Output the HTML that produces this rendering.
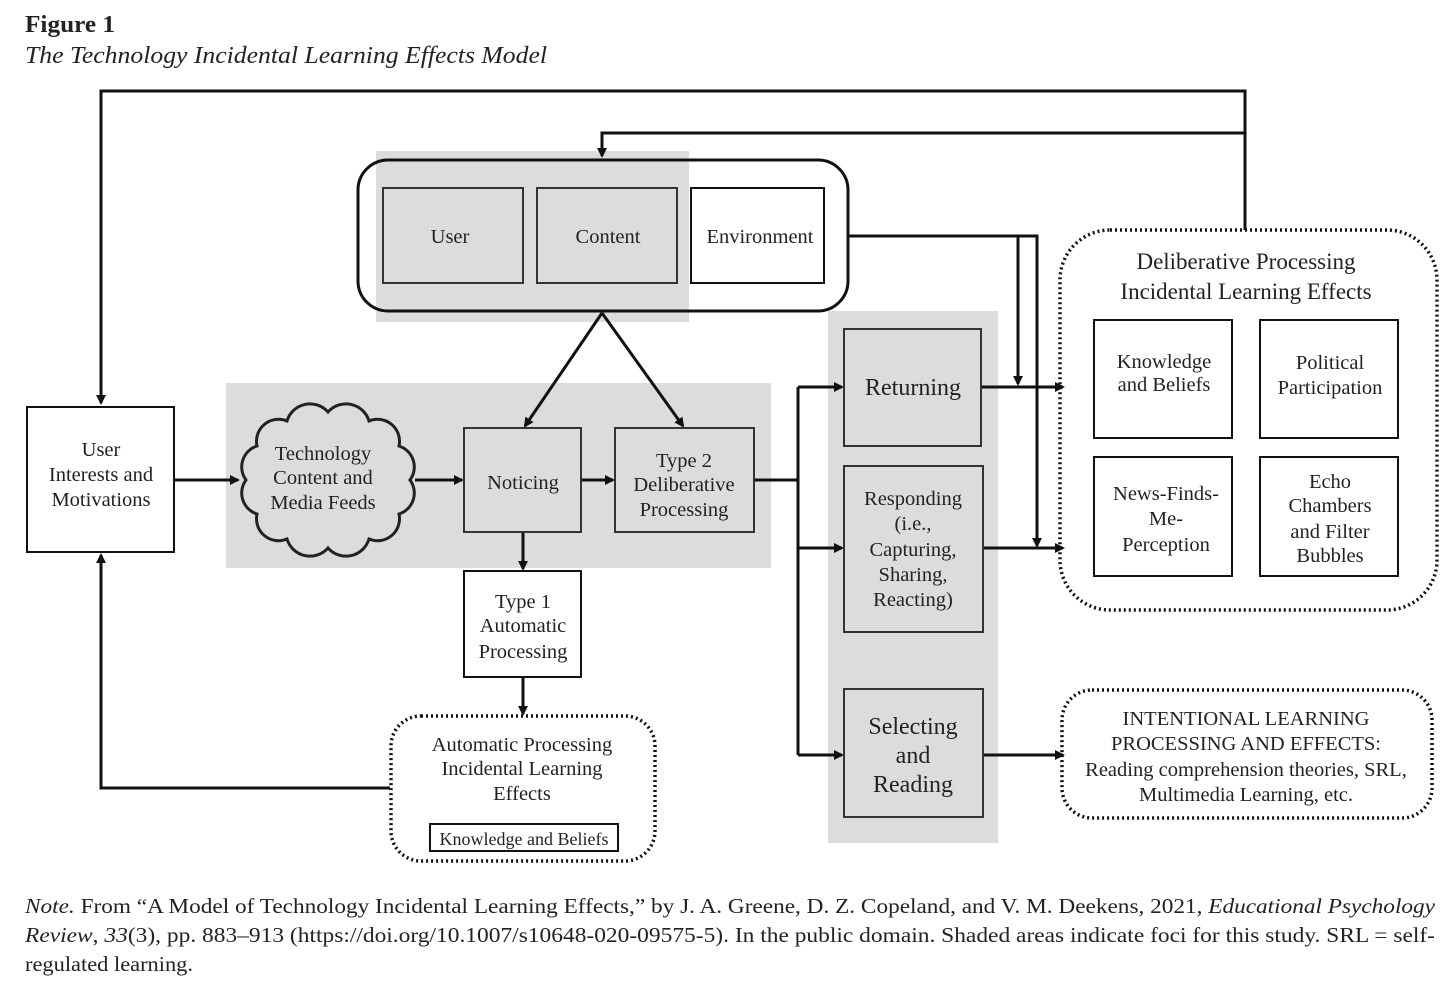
<!DOCTYPE html>
<html><head><meta charset="utf-8"><style>
html,body{margin:0;padding:0;background:#fff;}
svg{display:block;}
text{font-family:"Liberation Serif",serif;fill:#222;}
</style></head><body>
<svg width="1456" height="1005" viewBox="0 0 1456 1005" xmlns="http://www.w3.org/2000/svg">
<defs>
<marker id="a" markerWidth="10" markerHeight="10" refX="8" refY="5" orient="auto" markerUnits="userSpaceOnUse">
<path d="M0,0 L10,5 L0,10 z" fill="#111"/></marker>
</defs>
<text x="25" y="32" font-size="24" font-weight="bold" fill="#000" textLength="90" lengthAdjust="spacingAndGlyphs">Figure 1</text>
<text x="25" y="63" font-size="24" font-style="italic" fill="#000" textLength="522" lengthAdjust="spacingAndGlyphs">The Technology Incidental Learning Effects Model</text>

<rect x="376" y="151" width="313" height="171" fill="#dcdcdc"/>
<rect x="226" y="383" width="545" height="185" fill="#dcdcdc"/>
<rect x="828" y="311" width="170" height="532" fill="#dcdcdc"/>

<g stroke="#111" stroke-width="3" fill="none">
<polyline points="1245,230 1245,91 101,91 101,403" marker-end="url(#a)"/>
<polyline points="1245,133 602,133 602,156" marker-end="url(#a)"/>
<polyline points="848,236 1037,236 1037,546" marker-end="url(#a)"/>
<polyline points="1018,236 1018,384" marker-end="url(#a)"/>
<rect x="358" y="160" width="490" height="151" rx="30"/>
<line x1="602" y1="313" x2="525" y2="426" marker-end="url(#a)"/>
<line x1="602" y1="313" x2="683" y2="426" marker-end="url(#a)"/>
<line x1="174" y1="480" x2="238" y2="480" marker-end="url(#a)"/>
<line x1="415" y1="480" x2="462" y2="480" marker-end="url(#a)"/>
<line x1="581" y1="480" x2="613" y2="480" marker-end="url(#a)"/>
<line x1="523" y1="532" x2="523" y2="569" marker-end="url(#a)"/>
<line x1="523" y1="677" x2="523" y2="714" marker-end="url(#a)"/>
<polyline points="390,788 101,788 101,555" marker-end="url(#a)"/>
<polyline points="754,480 798,480"/>
<line x1="798" y1="387" x2="798" y2="755"/>
<line x1="798" y1="387" x2="842" y2="387" marker-end="url(#a)"/>
<line x1="798" y1="548" x2="842" y2="548" marker-end="url(#a)"/>
<line x1="798" y1="755" x2="842" y2="755" marker-end="url(#a)"/>
<line x1="981" y1="387" x2="1063" y2="387" marker-end="url(#a)"/>
<line x1="983" y1="548" x2="1063" y2="548" marker-end="url(#a)"/>
<line x1="983" y1="755" x2="1063" y2="755" marker-end="url(#a)"/>
</g>

<g stroke="#333" stroke-width="2">
<rect x="383" y="188" width="140" height="95" fill="#dcdcdc"/>
<rect x="537" y="188" width="140" height="95" fill="#dcdcdc"/>
<rect x="691" y="188" width="133" height="95" fill="#fff" stroke="#111"/>
<rect x="464" y="428" width="117" height="104" fill="#dcdcdc"/>
<rect x="615" y="428" width="139" height="104" fill="#dcdcdc"/>
<rect x="844" y="329" width="137" height="117" fill="#dcdcdc"/>
<rect x="844" y="466" width="139" height="166" fill="#dcdcdc"/>
<rect x="844" y="689" width="139" height="128" fill="#dcdcdc"/>
</g>
<g stroke="#111" stroke-width="2" fill="#fff">
<rect x="27" y="407" width="147" height="145"/>
<rect x="464" y="571" width="117" height="106"/>
<rect x="430" y="824" width="188" height="27"/>
<rect x="1094" y="320" width="138" height="118"/>
<rect x="1260" y="320" width="138" height="118"/>
<rect x="1094" y="457" width="138" height="119"/>
<rect x="1260" y="457" width="138" height="119"/>
</g>
<g stroke="#111" stroke-width="3.5" fill="none" stroke-dasharray="2 3">
<rect x="391" y="716" width="264" height="145" rx="30"/>
<rect x="1060" y="230" width="377" height="380" rx="50"/>
<rect x="1062" y="690" width="370" height="128" rx="30"/>
</g>

<path d="M410,480 A22,22 0 0 0 399,446 A22,22 0 0 0 369,421 A24,24 0 0 0 328,412 A24,24 0 0 0 287,421 A22,22 0 0 0 257,446 A22,22 0 0 0 246,480 A22,22 0 0 0 257,514 A22,22 0 0 0 287,539 A24,24 0 0 0 328,548 A24,24 0 0 0 369,539 A22,22 0 0 0 399,514 A22,22 0 0 0 410,480 Z" fill="#dcdcdc" stroke="#222" stroke-width="3"/>

<g font-size="20.5" text-anchor="middle">
<text x="450" y="243">User</text>
<text x="608" y="243">Content</text>
<text x="760" y="243" fill="#000">Environment</text>
<text x="101" y="456" fill="#000">User</text>
<text x="101" y="481" fill="#000">Interests and</text>
<text x="101" y="506" fill="#000">Motivations</text>
<text x="323" y="460">Technology</text>
<text x="323" y="484">Content and</text>
<text x="323" y="509">Media Feeds</text>
<text x="523" y="489">Noticing</text>
<text x="684" y="467">Type 2</text>
<text x="684" y="491">Deliberative</text>
<text x="684" y="516">Processing</text>
<text x="523" y="608" fill="#000">Type 1</text>
<text x="523" y="632" fill="#000">Automatic</text>
<text x="523" y="658" fill="#000">Processing</text>
<text x="522" y="751" fill="#000">Automatic Processing</text>
<text x="522" y="775" fill="#000">Incidental Learning</text>
<text x="522" y="800" fill="#000">Effects</text>
<text x="524" y="845" font-size="18" fill="#000">Knowledge and Beliefs</text>
<text x="913" y="395" font-size="24">Returning</text>
<text x="913" y="505">Responding</text>
<text x="913" y="530">(i.e.,</text>
<text x="913" y="556">Capturing,</text>
<text x="913" y="581">Sharing,</text>
<text x="913" y="606">Reacting)</text>
<text x="913" y="734" font-size="24">Selecting</text>
<text x="913" y="763" font-size="24">and</text>
<text x="913" y="792" font-size="24">Reading</text>
<text x="1246" y="269" font-size="23" fill="#000">Deliberative Processing</text>
<text x="1246" y="299" font-size="23" fill="#000">Incidental Learning Effects</text>
<text x="1164" y="368" fill="#000">Knowledge</text>
<text x="1164" y="391" fill="#000">and Beliefs</text>
<text x="1330" y="369" fill="#000">Political</text>
<text x="1330" y="394" fill="#000">Participation</text>
<text x="1166" y="500" fill="#000">News-Finds-</text>
<text x="1166" y="525" fill="#000">Me-</text>
<text x="1166" y="551" fill="#000">Perception</text>
<text x="1330" y="488" fill="#000">Echo</text>
<text x="1330" y="512" fill="#000">Chambers</text>
<text x="1330" y="538" fill="#000">and Filter</text>
<text x="1330" y="562" fill="#000">Bubbles</text>
<text x="1246" y="725" fill="#000">INTENTIONAL LEARNING</text>
<text x="1246" y="750" fill="#000">PROCESSING AND EFFECTS:</text>
<text x="1246" y="776" fill="#000">Reading comprehension theories, SRL,</text>
<text x="1246" y="801" fill="#000">Multimedia Learning, etc.</text>
</g>

<g font-size="21" fill="#000">
<text x="25" y="913" textLength="1410" lengthAdjust="spacingAndGlyphs"><tspan font-style="italic">Note.</tspan>   From “A Model of Technology Incidental Learning Effects,” by J. A. Greene, D. Z. Copeland, and V. M. Deekens, 2021, <tspan font-style="italic">Educational Psychology</tspan></text>
<text x="25" y="942" textLength="1410" lengthAdjust="spacingAndGlyphs"><tspan font-style="italic">Review</tspan>, <tspan font-style="italic">33</tspan>(3), pp. 883–913 (https://doi.org/10.1007/s10648-020-09575-5). In the public domain. Shaded areas indicate foci for this study. SRL = self-</text>
<text x="25" y="971" textLength="168" lengthAdjust="spacingAndGlyphs">regulated learning.</text>
</g>
</svg>
</body></html>
